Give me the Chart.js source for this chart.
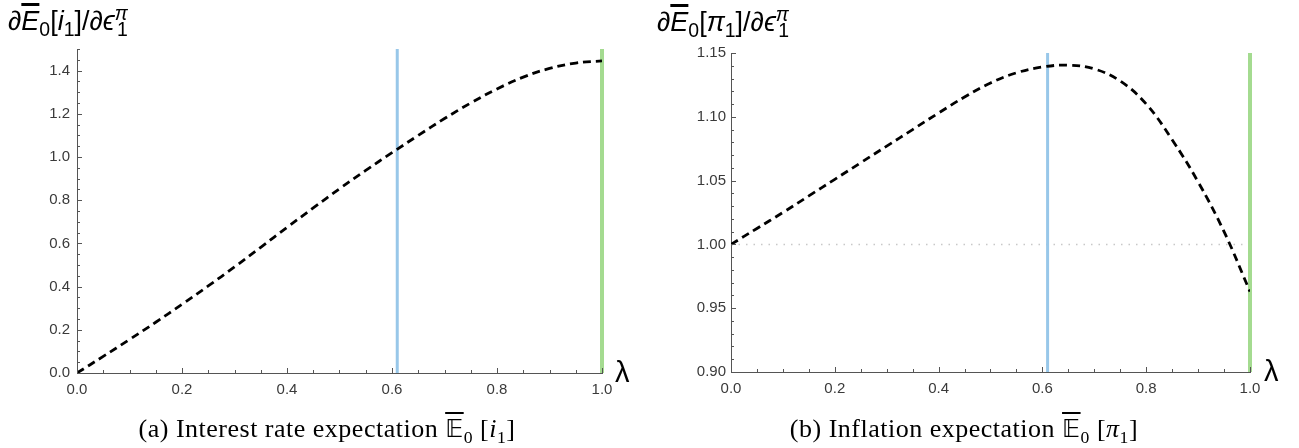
<!DOCTYPE html>
<html>
<head>
<meta charset="utf-8">
<script src="https://cdn.jsdelivr.net/npm/chart.js@4.4.1/dist/chart.umd.min.js"></script>
<style>
  body { margin: 0; background: #fff; }
  #page { position: relative; width: 1299px; height: 448px; overflow: hidden; }
  .panel { position: absolute; top: 0; height: 448px; }
  .ylab { position: absolute; font-family: "Liberation Sans", Arial, sans-serif; font-size: 27px; color: #000; white-space: nowrap; line-height: 1; }
  .ylab sub, .ylab sup { font-size: 0.72em; }
  .ov { text-decoration: overline; text-decoration-thickness: 2.5px; }
  .lam { position: absolute; font-family: "Liberation Sans", Arial, sans-serif; font-size: 29px; line-height: 1; }
  .cap { position: absolute; font-family: "Liberation Serif", "DejaVu Serif", serif; font-size: 26px; letter-spacing: 0.5px; white-space: nowrap; transform: translateX(-50%); line-height: 1; }
  .cap sub { font-size: 0.68em; }
  .bb { font-family: "DejaVu Sans", "DejaVu Serif", serif; text-decoration: overline; font-size: 0.95em; }
</style>
</head>
<body>
<div id="page">
  <div class="panel" style="left:0;width:650px"><canvas id="chartRate" width="650" height="448"></canvas></div>
  <div class="panel" style="left:650px;width:649px"><canvas id="chartInfl" width="649" height="448"></canvas></div>

  <div class="ylab" style="left:8px;top:4px">∂<i class="ov">E</i><sub>0</sub>[<i>i</i><sub>1</sub>]/∂<i>ϵ</i><sup><i>π</i></sup><sub style="margin-left:-0.55em">1</sub></div>
  <div class="ylab" style="left:657px;top:5px">∂<i class="ov">E</i><sub>0</sub>[<i>π</i><sub>1</sub>]/∂<i>ϵ</i><sup><i>π</i></sup><sub style="margin-left:-0.55em">1</sub></div>

  <div class="lam" style="left:615px;top:358px">λ</div>
  <div class="lam" style="left:1264px;top:357px">λ</div>

  <div class="cap" style="left:327px;top:416px">(a) Interest rate expectation <span class="bb">𝔼</span><sub>0</sub> [<i>i</i><sub>1</sub>]</div>
  <div class="cap" style="left:964px;top:416px">(b) Inflation expectation <span class="bb">𝔼</span><sub>0</sub> [<i>π</i><sub>1</sub>]</div>
</div>

<script>
// lambda grid shared by both panels
const lambdaGrid = [0, 0.05, 0.1, 0.15, 0.2, 0.25, 0.3, 0.35, 0.4, 0.45, 0.5,
                    0.55, 0.6, 0.65, 0.7, 0.75, 0.8, 0.85, 0.9, 0.95, 1.0];

// response of the interest rate expectation
const rateResponse = [0, 0.077, 0.155, 0.235, 0.318, 0.403, 0.491, 0.582, 0.674, 0.764, 0.853,
                      0.938, 1.020, 1.100, 1.178, 1.250, 1.315, 1.370, 1.410, 1.435, 1.445];

// response of the inflation expectation
const inflationResponse = [1.000, 1.0125, 1.025, 1.038, 1.051, 1.064, 1.077, 1.090, 1.103, 1.1155, 1.1265,
                           1.1345, 1.139, 1.1405, 1.1375, 1.128, 1.110, 1.082, 1.049, 1.010, 0.963];

// reference markers
const markerLambda = 0.61;
const edgeLambda = 1.0;
const inflationBaseline = 1.0;

const tickFont = { family: "Liberation Sans", size: 15 };
const tickColor = '#3a3a3a';
const axisColor = '#555';

// small tick marks drawn inside the plot, Mathematica style
const innerTicks = {
    id: 'innerTicks',
    afterDraw(chart, args, opts) {
        const ctx = chart.ctx;
        const a = chart.chartArea;
        const xs = chart.scales.x, ys = chart.scales.y;
        ctx.save();
        ctx.strokeStyle = axisColor;
        ctx.lineWidth = 1;
        ctx.beginPath();
        for (let v = xs.min; v <= xs.max + 1e-9; v += opts.xMinor) {
            const major = Math.abs(v / opts.xMajor - Math.round(v / opts.xMajor)) < 1e-6;
            const px = Math.round(xs.getPixelForValue(v)) + 0.5;
            ctx.moveTo(px, a.bottom);
            ctx.lineTo(px, a.bottom - (major ? 5 : 3));
        }
        for (let v = ys.min; v <= ys.max + 1e-9; v += opts.yMinor) {
            const major = Math.abs((v - ys.min) / opts.yMajor - Math.round((v - ys.min) / opts.yMajor)) < 1e-6;
            const py = Math.round(ys.getPixelForValue(v)) + 0.5;
            ctx.moveTo(a.left, py);
            ctx.lineTo(a.left + (major ? 5 : 3), py);
        }
        ctx.stroke();
        ctx.restore();
    }
};

function pairs(xv, yv) {
    return xv.map((x, i) => ({ x: x, y: yv[i] }));
}

function makeChart(id, curve, yMin, yMax, yStep, yMinor, decimals, yWidth, pad, extra) {
    const datasets = [
        {
            data: pairs(lambdaGrid, curve),
            borderColor: '#000',
            borderWidth: 2.8,
            borderDash: [8, 5],
            pointRadius: 0,
            tension: 0.4,
            order: 0
        },
        {
            data: [{ x: markerLambda, y: yMin }, { x: markerLambda, y: yMax }],
            borderColor: '#98c7e9',
            borderWidth: 3,
            pointRadius: 0,
            clip: false,
            order: 2
        },
        {
            data: [{ x: edgeLambda, y: yMin }, { x: edgeLambda, y: yMax }],
            borderColor: '#a4db90',
            borderWidth: 4,
            pointRadius: 0,
            clip: false,
            order: 1
        }
    ].concat(extra);

    return new Chart(document.getElementById(id).getContext('2d'), {
        type: 'line',
        data: { datasets: datasets },
        options: {
            responsive: false,
            animation: false,
            layout: { padding: pad },
            plugins: {
                legend: { display: false },
                tooltip: { enabled: false },
                innerTicks: { xMajor: 0.2, xMinor: 0.05, yMajor: yStep, yMinor: yMinor }
            },
            scales: {
                x: {
                    type: 'linear',
                    min: 0,
                    max: 1,
                    grid: { display: false, drawTicks: false },
                    border: { display: true, color: axisColor, width: 1 },
                    ticks: {
                        stepSize: 0.2,
                        padding: 8,
                        font: tickFont,
                        color: tickColor,
                        maxRotation: 0,
                        callback: v => v.toFixed(1)
                    },
                    afterFit: s => { s.height = 448 - pad.top - (pad.plotH); }
                },
                y: {
                    min: yMin,
                    max: yMax,
                    grid: { display: false, drawTicks: false },
                    border: { display: true, color: axisColor, width: 1 },
                    ticks: {
                        stepSize: yStep,
                        includeBounds: false,
                        padding: pad.tickPad,
                        font: tickFont,
                        color: tickColor,
                        callback: v => v.toFixed(decimals)
                    },
                    afterFit: s => { s.width = yWidth; }
                }
            }
        },
        plugins: [innerTicks]
    });
}

// left panel: interest rate
makeChart('chartRate', rateResponse, 0, 1.5, 0.2, 0.05, 1, 77,
    { left: 0, right: 48, top: 49, bottom: 0, plotH: 324, tickPad: 7 }, []);

// right panel: inflation, with the dotted baseline at 1
makeChart('chartInfl', inflationResponse, 0.9, 1.15, 0.05, 0.01, 2, 81,
    { left: 0, right: 49, top: 53, bottom: 0, plotH: 319, tickPad: 5 },
    [{
        data: [{ x: 0, y: inflationBaseline }, { x: edgeLambda, y: inflationBaseline }],
        borderColor: '#c8c8c8',
        borderWidth: 1.5,
        borderDash: [1.5, 6],
        pointRadius: 0,
        order: 3
    }]);
</script>
</body>
</html>
